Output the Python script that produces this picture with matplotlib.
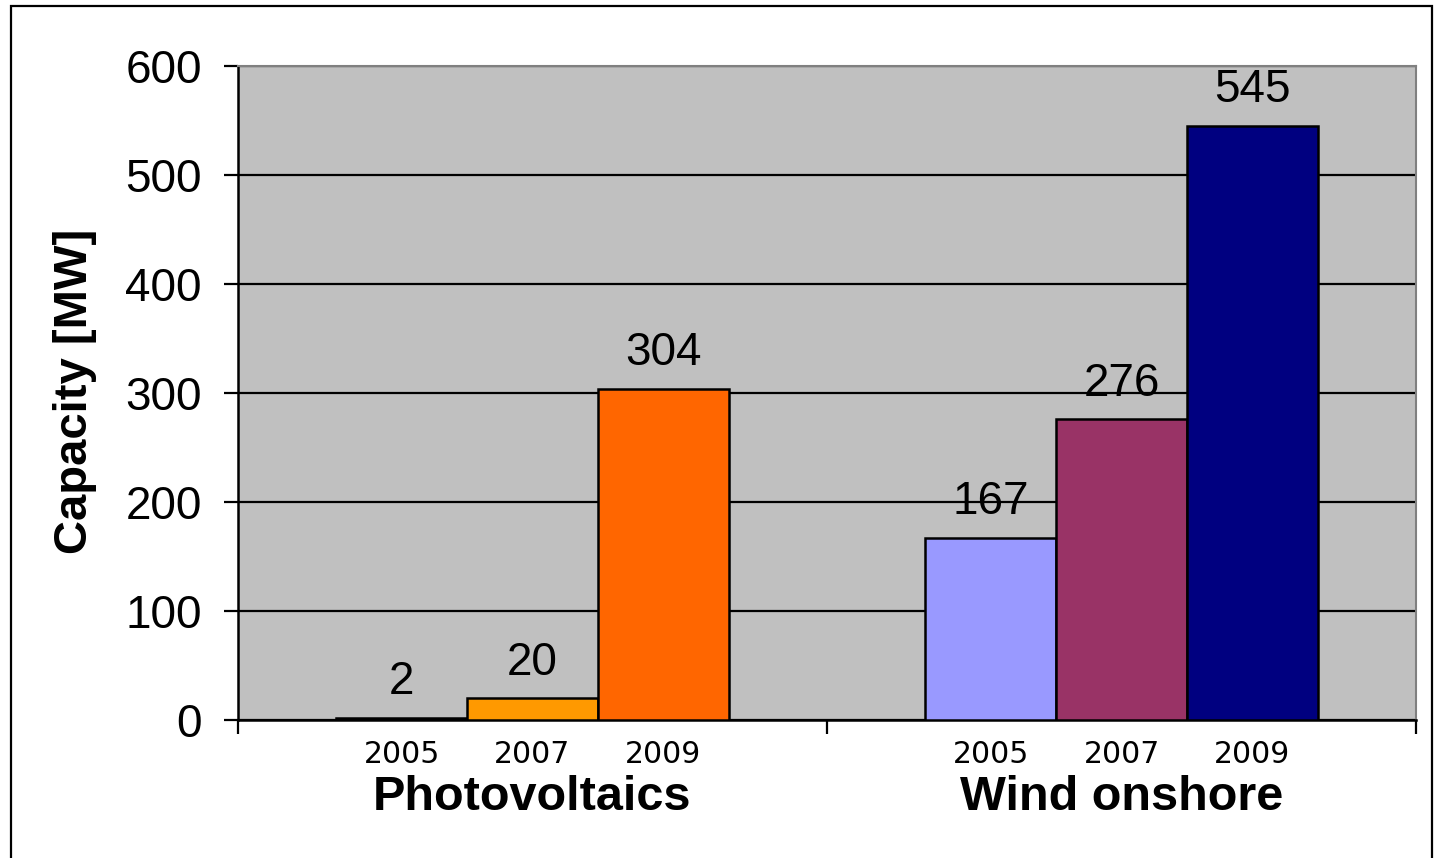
import matplotlib
matplotlib.use("Agg")
import matplotlib.pyplot as plt
import matplotlib.transforms as mtransforms
from matplotlib.patches import Rectangle
import numpy as np

categories = ["Photovoltaics", "Wind onshore"]
years = ["2005", "2007", "2009"]
pv_values = [2, 20, 304]
wind_values = [167, 276, 545]
pv_colors = ["#FFCC00", "#FF9900", "#FF6600"]
wind_colors = ["#9999FF", "#993366", "#000080"]
y_ticks = [0, 100, 200, 300, 400, 500, 600]

plt.rcParams["font.family"] = ["Liberation Sans", "DejaVu Sans"]

fig = plt.figure(figsize=(14.39, 8.58), dpi=100)
ax = fig.add_axes([238 / 1439, 138 / 858, 1178 / 1439, 654 / 858])
ax.set_facecolor("#C0C0C0")

bar_w = 131 / 590
offsets = np.array([-1, 0, 1]) * bar_w

ax.set_axisbelow(True)
ax.yaxis.grid(True, color="black", linewidth=1.6)

blend = mtransforms.blended_transform_factory(ax.transData, ax.transAxes)
for i, (vals, cols) in enumerate([(pv_values, pv_colors), (wind_values, wind_colors)]):
    xs = i + offsets
    ax.bar(xs, vals, width=bar_w, color=cols, edgecolor="black", linewidth=1.8, zorder=3)
    for x, v, yr in zip(xs, vals, years):
        ax.annotate(str(v), (x, v), xytext=(0, 17), textcoords="offset points",
                    ha="center", va="baseline", fontsize=33, zorder=4)
        ax.text(x, -0.0535, yr, transform=blend, ha="center", va="center",
                fontsize=21.5, family="DejaVu Sans")
    ax.text(i, -0.119, categories[i], transform=blend, ha="center", va="center",
            fontsize=35, fontweight="bold")

ax.set_xlim(-0.5, 1.5)
ax.set_ylim(0, 600)
ax.set_xticks([-0.5, 0.5, 1.5])
ax.set_xticklabels([])
ax.set_yticks(y_ticks)
ax.set_yticklabels([str(t) for t in y_ticks])
ax.tick_params(axis="both", direction="out", length=10, width=1.6, colors="black")
ax.tick_params(axis="y", labelsize=33, pad=16)

fig.text(75 / 1439, 1 - 391 / 858, "Capacity [MW]", rotation=90, ha="center",
         va="center", fontsize=34, fontweight="bold")

for side in ["left", "bottom"]:
    ax.spines[side].set_color("black")
    ax.spines[side].set_linewidth(1.8)
for side in ["top", "right"]:
    ax.spines[side].set_color("#808080")
    ax.spines[side].set_linewidth(1.5)

fig.patches.append(Rectangle((11 / 1439, -0.05), (1432 - 11) / 1439, 1.05 - 6 / 858,
                             transform=fig.transFigure, fill=False,
                             edgecolor="black", linewidth=1.6))

fig.savefig("out.png", dpi=100)
